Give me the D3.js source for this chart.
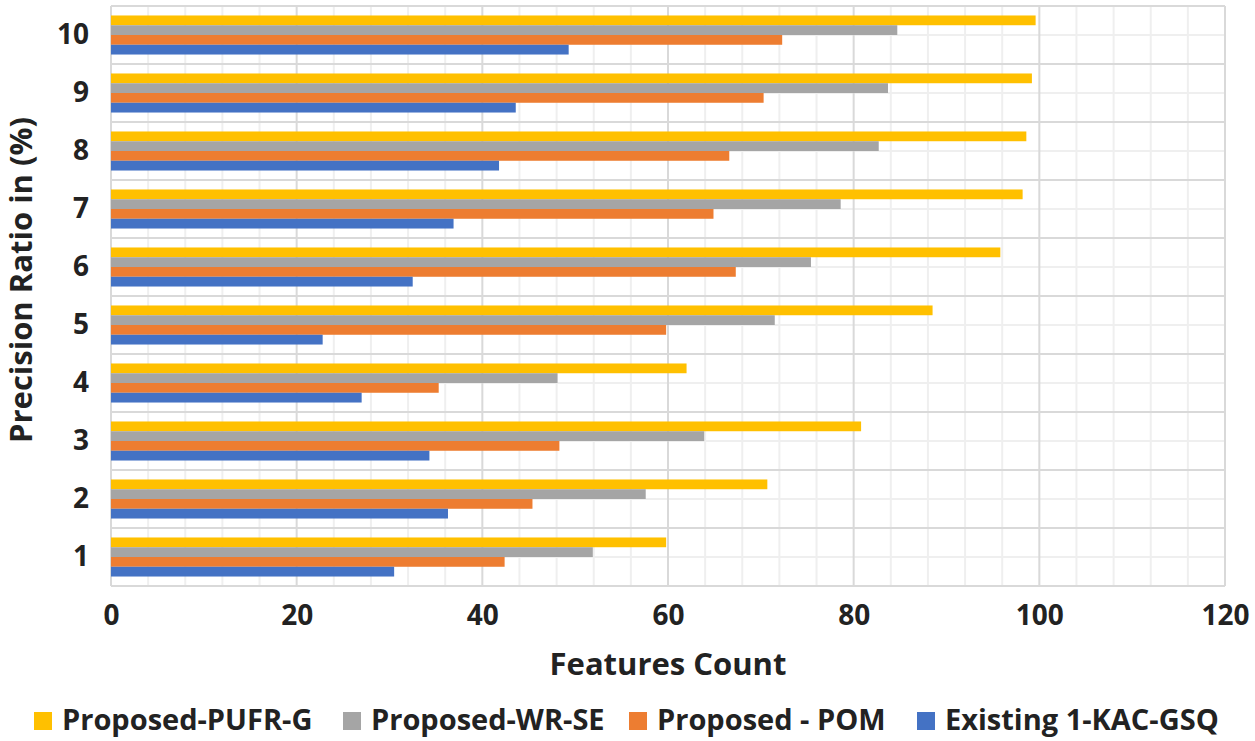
<!DOCTYPE html>
<html>
<head>
<meta charset="utf-8">
<script src="https://cdn.jsdelivr.net/npm/d3@7"></script>
<style>
  body { margin: 0; background: #fff; }
  text { font-family: "Open Sans", sans-serif; font-weight: bold; fill: #222; }
</style>
</head>
<body>
<svg id="chart"></svg>
<script>
const categories = ["1", "2", "3", "4", "5", "6", "7", "8", "9", "10"];
const seriesNames = ["Proposed-PUFR-G", "Proposed-WR-SE", "Proposed - POM", "Existing 1-KAC-GSQ"];
const pufrG = [59.8, 70.7, 80.8, 62.0, 88.5, 95.8, 98.2, 98.6, 99.2, 99.6];
const wrSe  = [51.9, 57.6, 63.9, 48.1, 71.5, 75.4, 78.6, 82.7, 83.7, 84.7];
const pom   = [42.4, 45.4, 48.3, 35.3, 59.8, 67.3, 64.9, 66.6, 70.3, 72.3];
const kac   = [30.5, 36.3, 34.3, 27.0, 22.8, 32.5, 36.9, 41.8, 43.6, 49.3];
const xTicks = [0, 20, 40, 60, 80, 100, 120];
const colors = ["#FFC000", "#A5A5A5", "#ED7D31", "#4472C4"];

const W = 1255, H = 741;
const margin = { top: 6, right: 30, bottom: 155, left: 111 },
      width = 1225 - margin.left,
      height = 586 - margin.top;

const svgRoot = d3.select("#chart").attr("width", W).attr("height", H);
const svg = svgRoot.append("g")
  .attr("transform", `translate(${margin.left},${margin.top})`);

const x = d3.scaleLinear().domain([0, 120]).range([0, width]);
const y = d3.scaleBand()
  .domain(categories.slice().reverse())
  .range([0, height])
  .padding(0);
const ySub = d3.scaleBand()
  .domain(seriesNames)
  .range([0, y.bandwidth()])
  .paddingInner(0)
  .paddingOuter(0.97);

// minor grid
svg.append("g")
  .selectAll("line")
  .data(d3.range(0, 121, 4).filter(v => v % 20 !== 0))
  .enter().append("line")
  .attr("x1", d => x(d)).attr("x2", d => x(d))
  .attr("y1", 0).attr("y2", height)
  .attr("stroke", "#efefef").attr("stroke-width", 2);

svg.append("g")
  .selectAll("line")
  .data(categories)
  .enter().append("line")
  .attr("x1", 0).attr("x2", width)
  .attr("y1", d => y(d) + y.bandwidth() / 2)
  .attr("y2", d => y(d) + y.bandwidth() / 2)
  .attr("stroke", "#efefef").attr("stroke-width", 2);

// major grid
svg.append("g")
  .selectAll("line")
  .data(xTicks)
  .enter().append("line")
  .attr("x1", d => x(d)).attr("x2", d => x(d))
  .attr("y1", 0).attr("y2", height)
  .attr("stroke", "#d9d9d9").attr("stroke-width", 2);

svg.append("g")
  .selectAll("line")
  .data(categories.concat(["top"]))
  .enter().append("line")
  .attr("x1", 0).attr("x2", width)
  .attr("y1", d => d === "top" ? 0 : y(d) + y.bandwidth())
  .attr("y2", d => d === "top" ? 0 : y(d) + y.bandwidth())
  .attr("stroke", "#d9d9d9").attr("stroke-width", 2);

// bars
const allSeries = [pufrG, wrSe, pom, kac];
const rows = [];
categories.forEach((c, i) => {
  seriesNames.forEach((s, j) => {
    rows.push({ cat: c, series: s, value: allSeries[j][i], color: colors[j] });
  });
});

svg.append("g")
  .selectAll("rect")
  .data(rows)
  .enter().append("rect")
  .attr("x", x(0))
  .attr("y", d => y(d.cat) + ySub(d.series))
  .attr("width", d => x(d.value) - x(0))
  .attr("height", ySub.bandwidth())
  .attr("fill", d => d.color);

// axes
const yAxis = svg.append("g")
  .call(d3.axisLeft(y).tickSize(0).tickPadding(22));
yAxis.select(".domain").remove();
yAxis.selectAll("text")
  .style("font-size", "28px")
  .style("font-family", "'Open Sans', sans-serif")
  .style("font-weight", "bold")
  .attr("fill", "#222");

const xAxis = svg.append("g")
  .attr("transform", `translate(0,${height})`)
  .call(d3.axisBottom(x).tickValues(xTicks).tickSize(0).tickPadding(19));
xAxis.select(".domain").remove();
xAxis.selectAll("text")
  .style("font-size", "28px")
  .style("font-family", "'Open Sans', sans-serif")
  .style("font-weight", "bold")
  .attr("fill", "#222");

// axis titles
svgRoot.append("text")
  .attr("x", margin.left + width / 2)
  .attr("y", 675)
  .attr("text-anchor", "middle")
  .style("font-size", "31px")
  .text("Features Count");

svgRoot.append("text")
  .attr("transform", "translate(32,280) rotate(-90)")
  .attr("text-anchor", "middle")
  .style("font-size", "31px")
  .text("Precision Ratio in (%)");

// legend
const legendX = [34, 343, 629, 917];
const legend = svgRoot.append("g")
  .selectAll("g")
  .data(seriesNames)
  .enter().append("g")
  .attr("transform", (d, i) => `translate(${legendX[i]},712)`);

legend.append("rect")
  .attr("width", 18).attr("height", 18)
  .attr("fill", (d, i) => colors[i]);

legend.append("text")
  .attr("x", 28)
  .attr("y", 18)
  .style("font-size", "29px")
  .text(d => d);
</script>
</body>
</html>
